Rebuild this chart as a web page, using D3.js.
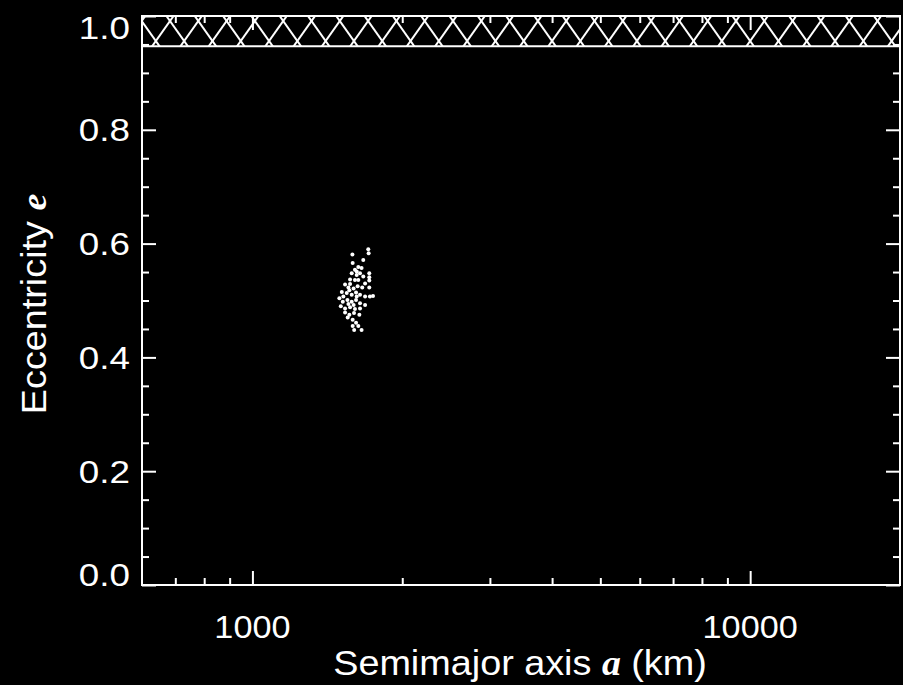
<!DOCTYPE html>
<html>
<head>
<meta charset="utf-8">
<script src="https://cdn.jsdelivr.net/npm/d3@7"></script>
<style>
  html, body { margin: 0; padding: 0; background: #000; }
  svg { display: block; }
</style>
</head>
<body>
<svg id="chart" width="903" height="685"></svg>
<script>
// Orbital elements of the simulated satellites: semimajor axis (km) and eccentricity
const semimajorAxis = [
  1709, 1712, 1588, 1670, 1590, 1632, 1657, 1607, 1583, 1620,
  1645, 1717, 1717, 1717, 1571, 1607, 1535, 1559, 1597, 1627,
  1662, 1717, 1512, 1547, 1583, 1615, 1645, 1684, 1722, 1747,
  1495, 1519, 1552, 1583, 1615, 1645, 1684, 1505, 1535, 1571,
  1607, 1645, 1535, 1566, 1600, 1590, 1615, 1590, 1632, 1601,
  1657, 1523, 1559, 1597, 1620, 1566, 1632, 1620, 1670, 1554,
  1640, 1571, 1684
];
const eccentricity = [
  0.590, 0.583, 0.581, 0.571, 0.566, 0.559, 0.557, 0.554, 0.548, 0.545,
  0.548, 0.548, 0.541, 0.535, 0.537, 0.536, 0.528, 0.523, 0.521, 0.525,
  0.523, 0.523, 0.515, 0.513, 0.510, 0.514, 0.510, 0.507, 0.507, 0.508,
  0.504, 0.498, 0.501, 0.498, 0.501, 0.495, 0.492, 0.490, 0.486, 0.488,
  0.485, 0.486, 0.479, 0.475, 0.478, 0.466, 0.461, 0.455, 0.455, 0.448,
  0.448, 0.507, 0.494, 0.492, 0.507, 0.518, 0.536, 0.551, 0.542, 0.470,
  0.475, 0.529, 0.530
];

// Axis ranges and ticks
const xDomain = [600, 20000];
const xMajorTicks = [1000, 10000];
const xMinorTicks = [700, 800, 900, 2000, 3000, 4000, 5000, 6000, 7000, 8000, 9000];
const yDomain = [0, 1];
const yMajorTicks = [0.0, 0.2, 0.4, 0.6, 0.8, 1.0];
const yMinorTicks = [0.05, 0.1, 0.15, 0.25, 0.3, 0.35, 0.45, 0.5, 0.55, 0.65, 0.7, 0.75, 0.85, 0.9, 0.95];
// Forbidden region (hatched): eccentricity above this value
const eForbiddenMin = 0.947;

(function draw() {
  const pL = 142, pR = 900, pT = 16, pB = 585;
  const svg = d3.select("#chart");
  svg.append("rect").attr("width", 903).attr("height", 685).attr("fill", "#000");

  const x = d3.scaleLog().domain(xDomain).range([pL, pR]);
  const y = d3.scaleLinear().domain(yDomain).range([pB, pT]);

  const majorLen = 14, minorLen = 7;
  const white = "#fff";
  const sans = "'Liberation Sans', Arial, Helvetica, sans-serif";
  const serif = "'Liberation Serif', 'Times New Roman', serif";

  // Hatched band for e > eForbiddenMin
  const bandTop = y(1), bandBot = y(eForbiddenMin);
  svg.append("clipPath").attr("id", "bandClip")
    .append("rect")
    .attr("x", pL).attr("y", bandTop)
    .attr("width", pR - pL).attr("height", bandBot - bandTop);
  const hatch = svg.append("g").attr("clip-path", "url(#bandClip)");
  const period = 28.3, rise = 40, hx0 = 170, hy0 = 21;
  const hatchIdx = d3.range(-6, 34);
  ["fwd", "back"].forEach(dir => {
    const s = dir === "fwd" ? 1 : -1;
    hatch.selectAll("line." + dir).data(hatchIdx).join("line")
      .attr("class", dir)
      .attr("x1", k => hx0 + k * period - s * period * 2)
      .attr("y1", hy0 - rise * 2)
      .attr("x2", k => hx0 + k * period + s * period * 2)
      .attr("y2", hy0 + rise * 2)
      .attr("stroke", white).attr("stroke-width", 2);
  });
  svg.append("line")
    .attr("x1", pL).attr("x2", pR)
    .attr("y1", bandBot).attr("y2", bandBot)
    .attr("stroke", white).attr("stroke-width", 2);

  // Axes: ticks on all four sides pointing inward
  function styleAxis(g) {
    g.select(".domain").remove();
    g.selectAll(".tick line").attr("stroke", white).attr("stroke-width", 2);
    g.selectAll(".tick text").remove();
  }
  svg.append("g").attr("transform", `translate(0,${pB})`)
    .call(d3.axisBottom(x).tickValues(xMajorTicks).tickSize(-majorLen)).call(styleAxis);
  svg.append("g").attr("transform", `translate(0,${pB})`)
    .call(d3.axisBottom(x).tickValues(xMinorTicks).tickSize(-minorLen)).call(styleAxis);
  svg.append("g").attr("transform", `translate(0,${pT})`)
    .call(d3.axisTop(x).tickValues(xMajorTicks).tickSize(-majorLen)).call(styleAxis);
  svg.append("g").attr("transform", `translate(0,${pT})`)
    .call(d3.axisTop(x).tickValues(xMinorTicks).tickSize(-minorLen)).call(styleAxis);
  svg.append("g").attr("transform", `translate(${pL},0)`)
    .call(d3.axisLeft(y).tickValues(yMajorTicks).tickSize(-majorLen)).call(styleAxis);
  svg.append("g").attr("transform", `translate(${pL},0)`)
    .call(d3.axisLeft(y).tickValues(yMinorTicks).tickSize(-minorLen)).call(styleAxis);
  svg.append("g").attr("transform", `translate(${pR},0)`)
    .call(d3.axisRight(y).tickValues(yMajorTicks).tickSize(-majorLen)).call(styleAxis);
  svg.append("g").attr("transform", `translate(${pR},0)`)
    .call(d3.axisRight(y).tickValues(yMinorTicks).tickSize(-minorLen)).call(styleAxis);

  // Plot frame
  svg.append("rect")
    .attr("x", pL).attr("y", pT)
    .attr("width", pR - pL).attr("height", pB - pT)
    .attr("fill", "none").attr("stroke", white).attr("stroke-width", 2);

  // Tick labels (slightly wide lettering)
  const halfH = 11;
  svg.append("g").selectAll("text").data(yMajorTicks).join("text")
    .attr("transform", d => `translate(130,${Math.min(Math.max(y(d), pT + halfH), pB - halfH)}) scale(1.15,1)`)
    .attr("dy", "0.36em")
    .attr("text-anchor", "end")
    .attr("font-family", sans).attr("font-size", 32)
    .attr("fill", white)
    .text(d3.format(".1f"));
  svg.append("g").selectAll("text").data(xMajorTicks).join("text")
    .attr("transform", d => `translate(${x(d)},638) scale(1.07,1)`)
    .attr("text-anchor", "middle")
    .attr("font-family", sans).attr("font-size", 32)
    .attr("fill", white)
    .text(d => String(d));

  // Axis titles
  const xt = svg.append("text")
    .attr("transform", "translate(520,675) scale(1.08,1)")
    .attr("text-anchor", "middle")
    .attr("font-family", sans).attr("font-size", 35)
    .attr("fill", white);
  xt.append("tspan").text("Semimajor axis ");
  xt.append("tspan").attr("font-family", serif).attr("font-style", "italic").attr("font-weight", "bold").text("a");
  xt.append("tspan").text(" (km)");

  const yt = svg.append("text")
    .attr("transform", "translate(46,304) rotate(-90) scale(1.08,1)")
    .attr("text-anchor", "middle")
    .attr("font-family", sans).attr("font-size", 35)
    .attr("fill", white);
  yt.append("tspan").text("Eccentricity ");
  yt.append("tspan").attr("font-family", serif).attr("font-style", "italic").attr("font-weight", "bold").text("e");

  // Satellite points
  const points = semimajorAxis.map((a, i) => ({ a, e: eccentricity[i] }));
  svg.append("g").selectAll("circle").data(points).join("circle")
    .attr("cx", d => x(d.a))
    .attr("cy", d => y(d.e))
    .attr("r", 2)
    .attr("fill", white);
})();
</script>
</body>
</html>
